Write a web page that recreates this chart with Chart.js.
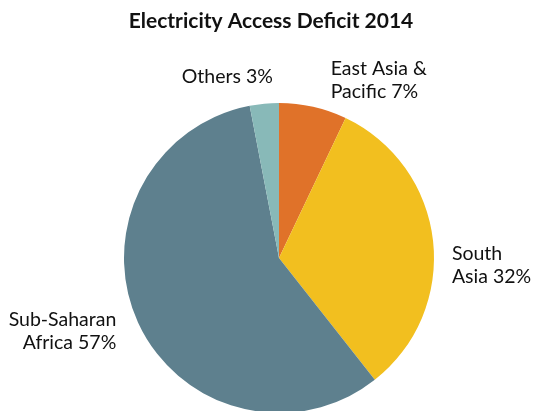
<!DOCTYPE html>
<html>
<head>
<meta charset="utf-8">
<script src="https://cdn.jsdelivr.net/npm/chart.js"></script>
<style>
    html, body {
        margin: 0;
        padding: 0;
        background: #fff;
        overflow: hidden;
    }
    .wrap {
        width: 535px;
        height: 420px;
    }
</style>
</head>
<body>
<div class="wrap"><canvas id="pie"></canvas></div>
<script>
const title = "Electricity Access Deficit 2014";
const regions = ["East Asia & Pacific", "South Asia", "Sub-Saharan Africa", "Others"];
const shares = [7, 32, 57, 3];
const labelLines = [["East Asia &", "Pacific 7%"], ["South", "Asia 32%"], ["Sub-Saharan", "Africa 57%"], ["Others 3%"]];
const colors = ["#E07229", "#F2BF1F", "#5E808E", "#88B9B8"];

// small nudges per label, relative to an anchor just outside the slice
const nudges = [[12, -2], [-6, 27], [1, -2], [11, -2]];
const font = "Lato, 'Open Sans', sans-serif";

const labelPlugin = {
    id: "outerLabels",
    afterDraw(chart) {
        const ctx = chart.ctx;
        ctx.save();
        ctx.fillStyle = "#111";
        ctx.font = `bold 21px ${font}`;
        ctx.textAlign = "center";
        ctx.textBaseline = "alphabetic";
        ctx.fillText(title, 271, 28);

        ctx.font = `19.5px ${font}`;
        ctx.textBaseline = "middle";
        const arcs = chart.getDatasetMeta(0).data;
        arcs.forEach((arc, i) => {
            const p = arc.getProps(["x", "y", "startAngle", "endAngle", "outerRadius"], true);
            const mid = (p.startAngle + p.endAngle) / 2;
            const d = p.outerRadius + 25;
            const ax = p.x + Math.cos(mid) * d + nudges[i][0];
            const ay = p.y + Math.sin(mid) * d + nudges[i][1];
            ctx.textAlign = ax > p.x ? "left" : "right";
            const lines = labelLines[i];
            const lh = 23;
            lines.forEach((line, j) => {
                ctx.fillText(line, ax, ay + (j - (lines.length - 1) / 2) * lh);
            });
        });
        ctx.restore();
    }
};

new Chart(document.getElementById("pie"), {
    type: "pie",
    data: {
        labels: regions,
        datasets: [{
            data: shares,
            backgroundColor: colors,
            borderWidth: 0,
        }]
    },
    options: {
        responsive: true,
        maintainAspectRatio: false,
        animation: false,
        layout: {
            padding: { top: 103, bottom: 7, left: 124, right: 101 }
        },
        plugins: {
            legend: { display: false },
            tooltip: { enabled: false },
        }
    },
    plugins: [labelPlugin]
});
</script>
</body>
</html>
